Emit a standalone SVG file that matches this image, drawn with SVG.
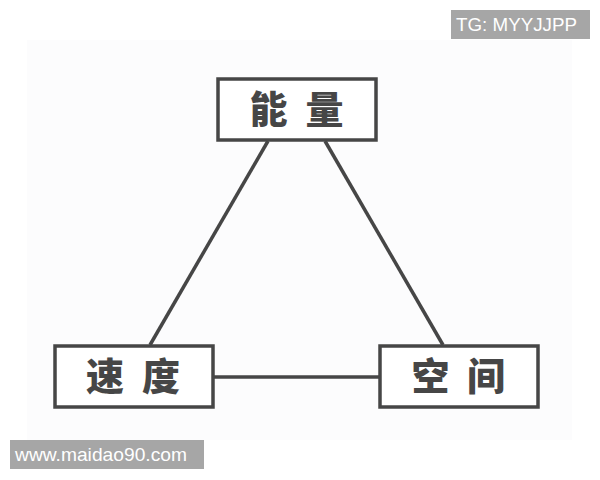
<svg xmlns="http://www.w3.org/2000/svg" width="600" height="480" viewBox="0 0 600 480">
<style>
.box{fill:#ffffff;stroke:#464646;stroke-width:3.5}
.lbl{font-family:"Noto Sans CJK SC","Noto Sans",sans-serif;font-weight:900;font-size:38px;fill:#464646;text-anchor:middle}
.conn{stroke:#464646;stroke-width:3.5;fill:none}
.badge{fill:#a6a6a6}
.btxt{font-family:"Liberation Sans",Arial,sans-serif;font-size:18.5px;fill:#ffffff}
</style>
<rect x="0" y="0" width="600" height="480" fill="#ffffff"/>
<rect x="27" y="40" width="545" height="400" fill="#fcfcfd"/>
<g id="connectors">
<line class="conn" x1="268" y1="141" x2="150" y2="345"/>
<line class="conn" x1="325" y1="141" x2="443" y2="345"/>
<line class="conn" x1="214" y1="377" x2="379" y2="377"/>
</g>
<g id="node-energy">
<rect class="box" x="218" y="79" width="158" height="61"/>
<text class="lbl" x="268.5" y="123">能</text>
<text class="lbl" x="324.5" y="123">量</text>
</g>
<g id="node-speed">
<rect class="box" x="55" y="346" width="158" height="61"/>
<text class="lbl" x="105" y="390">速</text>
<text class="lbl" x="161" y="390">度</text>
</g>
<g id="node-space">
<rect class="box" x="380" y="346" width="158" height="61"/>
<text class="lbl" x="430.5" y="390">空</text>
<text class="lbl" x="486" y="390">间</text>
</g>
<g id="watermark-tg">
<rect class="badge" x="451" y="10" width="139" height="29"/>
<text class="btxt" x="456" y="31" textLength="121" lengthAdjust="spacingAndGlyphs">TG: MYYJJPP</text>
</g>
<g id="watermark-url">
<rect class="badge" x="10" y="440" width="194" height="29"/>
<text class="btxt" x="15" y="461" textLength="172" lengthAdjust="spacingAndGlyphs">www.maidao90.com</text>
</g>
</svg>
